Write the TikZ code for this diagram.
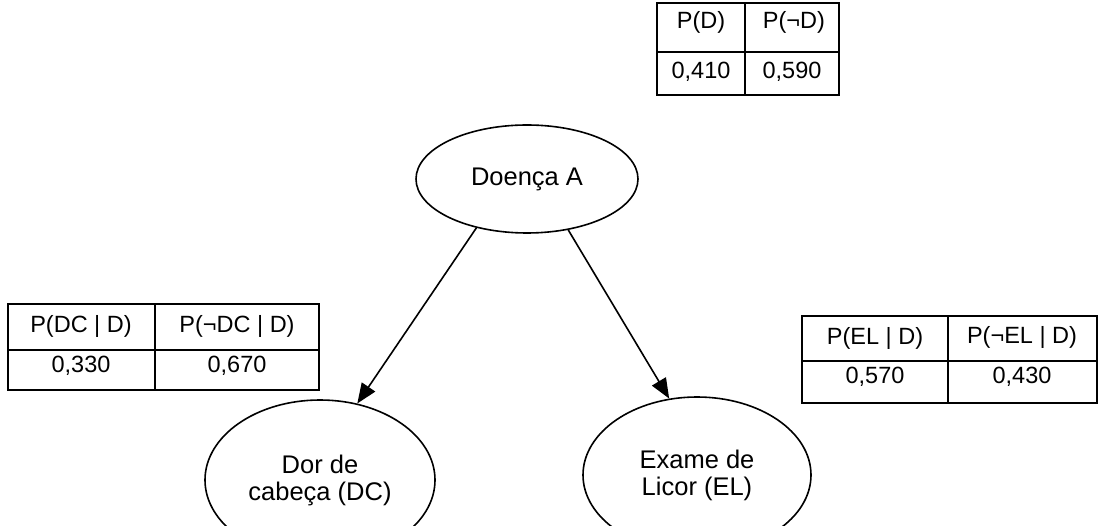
\documentclass[tikz,border=0pt]{standalone}
\usepackage{fontspec}
\setmainfont{Liberation Sans}
\usetikzlibrary{shapes.geometric,arrows.meta}
\tikzset{
  nodeell/.style={draw, ellipse, line width=1.6pt, inner sep=0pt, align=center, font=\fontsize{25.5}{27}\selectfont},
  cellbox/.style={draw, line width=1.8pt},
  celltxt/.style={inner sep=0pt, font=\fontsize{23.5}{26}\selectfont},
  edge/.style={line width=1.6pt, -{Triangle[length=20pt,width=16pt]}}
}
\begin{document}
\begin{tikzpicture}[x=1pt,y=-1pt]
\useasboundingbox (0,0) rectangle (1101,526);
\clip (0,0) rectangle (1101,526);
% top table
\draw[cellbox] (657,3) rectangle (839,95);
\draw[cellbox] (657,52) -- (839,52);
\draw[cellbox] (745,3) -- (745,95);
\node[celltxt] (t1a) at (701,22) {P(D)};
\node[celltxt] (t1b) at (794,22) {P(\char"00AC D)};
\node[celltxt] (t1c) at (701,72) {0,410};
\node[celltxt] (t1d) at (792,72) {0,590};
% left table
\draw[cellbox] (8,304) rectangle (319,390);
\draw[cellbox] (8,350) -- (319,350);
\draw[cellbox] (155,304) -- (155,390);
\node[celltxt] (t2a) at (81,326) {P(DC | D)};
\node[celltxt] (t2b) at (237,326) {P(\char"00AC DC | D)};
\node[celltxt] (t2c) at (81,366) {0,330};
\node[celltxt] (t2d) at (237,366) {0,670};
% right table
\draw[cellbox] (802,316) rectangle (1097,403);
\draw[cellbox] (802,361) -- (1097,361);
\draw[cellbox] (948,316) -- (948,403);
\node[celltxt] (t3a) at (875,338) {P(EL | D)};
\node[celltxt] (t3b) at (1022,337) {P(\char"00AC EL | D)};
\node[celltxt] (t3c) at (875,377) {0,570};
\node[celltxt] (t3d) at (1022,377) {0,430};
% nodes
\node[nodeell, minimum width=222pt, minimum height=108pt] (doenca) at (527,179) {Doença A};
\node[nodeell, minimum width=230pt, minimum height=160pt] (dc) at (320,480) {Dor de\\cabeça (DC)};
\node[nodeell, minimum width=228pt, minimum height=156pt] (el) at (697,475) {Exame de\\Licor (EL)};
% edges
\draw[edge] (doenca.224) -- (dc.64);
\draw[edge] (doenca.309) -- (el.110);
\end{tikzpicture}
\end{document}
